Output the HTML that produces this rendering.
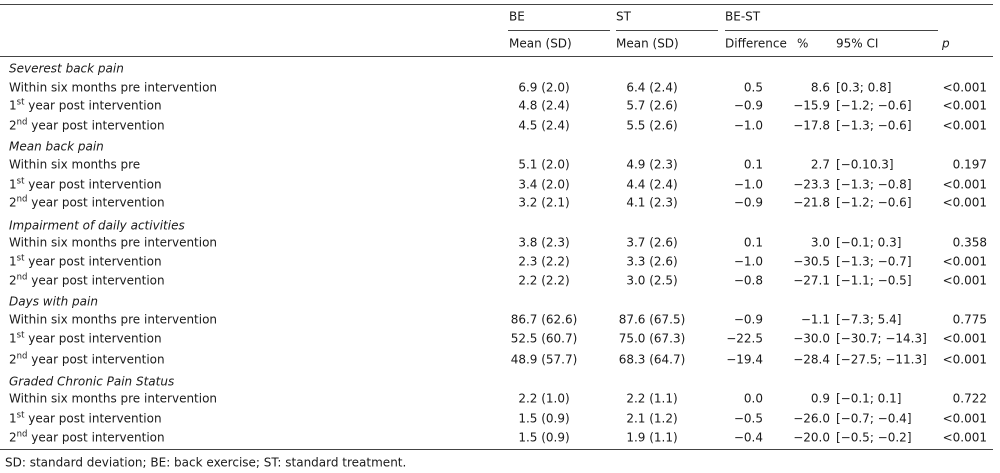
<!DOCTYPE html>
<html><head><meta charset="utf-8"><style>
body{margin:0;width:1000px;height:473px;background:#fff;position:relative;overflow:hidden;font-family:"DejaVu Sans","Liberation Sans",sans-serif;font-size:12px;color:#1a1a1a}
.t{position:absolute;white-space:nowrap;line-height:13px;transform:translateY(-6.5px)}
.r{transform:translate(-100%,-6.5px)}
.c{transform:translate(-50%,-6.5px)}
.ln{position:absolute;height:1px;background:#444}
sup{font-size:8.5px;line-height:0}
</style></head><body>
<div class="ln" style="left:0;top:4px;width:993px"></div>
<div class="ln" style="left:508px;top:30px;width:102px"></div>
<div class="ln" style="left:616px;top:30px;width:102px"></div>
<div class="ln" style="left:725px;top:30px;width:213px"></div>
<div class="ln" style="left:0;top:56px;width:993px"></div>
<div class="ln" style="left:0;top:449px;width:993px"></div>
<span class="t" style="left:509px;top:17px">BE</span>
<span class="t" style="left:616px;top:17px">ST</span>
<span class="t" style="left:725px;top:17px">BE-ST</span>
<span class="t" style="left:509px;top:44px">Mean (SD)</span>
<span class="t" style="left:616px;top:44px">Mean (SD)</span>
<span class="t" style="left:725px;top:44px">Difference</span>
<span class="t" style="left:797px;top:44px">%</span>
<span class="t" style="left:836px;top:44px">95% CI</span>
<span class="t" style="left:942px;top:44px;font-style:italic">p</span>
<span class="t" style="left:5px;top:463px">SD: standard deviation; BE: back exercise; ST: standard treatment.</span>
<script>
const groups=["Severest back pain","Mean back pain","Impairment of daily activities","Days with pain","Graded Chronic Pain Status"];
const groupY=[69,147,226,302,382];
const rowY=[[88,106,126],[165,185,203],[243,262,281],[320,339,360],[399,419,438]];
const labels=[["Within six months pre intervention","1<sup>st</sup> year post intervention","2<sup>nd</sup> year post intervention"],
["Within six months pre","1<sup>st</sup> year post intervention","2<sup>nd</sup> year post intervention"],
["Within six months pre intervention","1<sup>st</sup> year post intervention","2<sup>nd</sup> year post intervention"],
["Within six months pre intervention","1<sup>st</sup> year post intervention","2<sup>nd</sup> year post intervention"],
["Within six months pre intervention","1<sup>st</sup> year post intervention","2<sup>nd</sup> year post intervention"]];
const be=[["6.9 (2.0)","4.8 (2.4)","4.5 (2.4)"],["5.1 (2.0)","3.4 (2.0)","3.2 (2.1)"],["3.8 (2.3)","2.3 (2.2)","2.2 (2.2)"],["86.7 (62.6)","52.5 (60.7)","48.9 (57.7)"],["2.2 (1.0)","1.5 (0.9)","1.5 (0.9)"]];
const st=[["6.4 (2.4)","5.7 (2.6)","5.5 (2.6)"],["4.9 (2.3)","4.4 (2.4)","4.1 (2.3)"],["3.7 (2.6)","3.3 (2.6)","3.0 (2.5)"],["87.6 (67.5)","75.0 (67.3)","68.3 (64.7)"],["2.2 (1.1)","2.1 (1.2)","1.9 (1.1)"]];
const diff=[["0.5","−0.9","−1.0"],["0.1","−1.0","−0.9"],["0.1","−1.0","−0.8"],["−0.9","−22.5","−19.4"],["0.0","−0.5","−0.4"]];
const pct=[["8.6","−15.9","−17.8"],["2.7","−23.3","−21.8"],["3.0","−30.5","−27.1"],["−1.1","−30.0","−28.4"],["0.9","−26.0","−20.0"]];
const ci=[["[0.3; 0.8]","[−1.2; −0.6]","[−1.3; −0.6]"],["[−0.10.3]","[−1.3; −0.8]","[−1.2; −0.6]"],["[−0.1; 0.3]","[−1.3; −0.7]","[−1.1; −0.5]"],["[−7.3; 5.4]","[−30.7; −14.3]","[−27.5; −11.3]"],["[−0.1; 0.1]","[−0.7; −0.4]","[−0.5; −0.2]"]];
const pv=[["<0.001","<0.001","<0.001"],["0.197","<0.001","<0.001"],["0.358","<0.001","<0.001"],["0.775","<0.001","<0.001"],["0.722","<0.001","<0.001"]];
function put(html,x,y,cls,name){const s=document.createElement('span');s.className='t '+cls;s.style.left=x+'px';s.style.top=y+'px';s.innerHTML=html;


document.body.appendChild(s);return s;}
groups.forEach((g,i)=>{const h=put(g,9,groupY[i],'','group-title');h.style.fontStyle='italic';
for(let j=0;j<3;j++){const y=rowY[i][j];
put(labels[i][j],9,y,'','row-label');
put(be[i][j],544,y,'c','be-mean-sd');
put(st[i][j],652,y,'c','st-mean-sd');
put(diff[i][j],763,y,'r','difference');
put(pct[i][j],830,y,'r','percent-difference');
put(ci[i][j],836,y,'','confidence-interval');
put(pv[i][j].replace('<','&lt;'),987,y,'r','p-value');}});
</script>
</body></html>
